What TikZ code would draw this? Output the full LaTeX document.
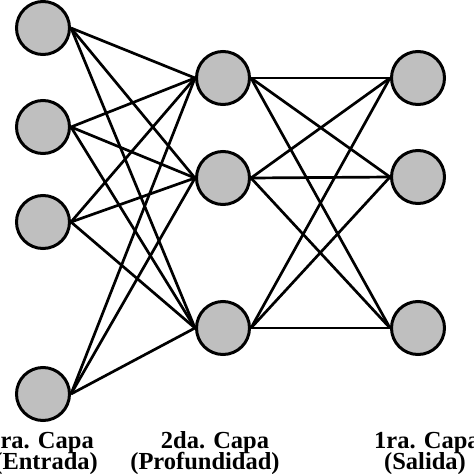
\documentclass[tikz,border=0pt]{standalone}
\usepackage{fontspec}
\setmainfont{Liberation Serif}
\begin{document}
\begin{tikzpicture}[x=1pt,y=-1pt,
  neuron/.style={circle,draw=black,line width=3pt,fill=gray!50!white,minimum size=53pt,inner sep=0pt},
  conn/.style={line width=2.7pt,black},
  lab/.style={font=\fontsize{24.5}{28}\selectfont\bfseries,inner sep=0pt}]
\useasboundingbox (0,0) rectangle (474,474);
\node[neuron] (L1) at (43,28) {};
\node[neuron] (L2) at (43,127) {};
\node[neuron] (L3) at (43,222) {};
\node[neuron] (L4) at (43,394) {};
\node[neuron] (M1) at (223,78) {};
\node[neuron] (M2) at (223,178) {};
\node[neuron] (M3) at (223,328) {};
\node[neuron] (R1) at (418,78) {};
\node[neuron] (R2) at (418,177) {};
\node[neuron] (R3) at (418,328) {};
\foreach \a in {L1,L2,L3,L4}
  \foreach \b in {M1,M2,M3}
    \draw[conn] (\a.east) -- (\b.west);
\foreach \a in {M1,M2,M3}
  \foreach \b in {R1,R2,R3}
    \draw[conn] (\a.east) -- (\b.west);
\node[lab,anchor=base east] (t1) at (94,448) {1ra. Capa};
\node[lab,anchor=base east] (t2) at (98,469) {(Entrada)};
\node[lab,anchor=base] (t3) at (215,448) {2da. Capa};
\node[lab,anchor=base] (t4) at (205,469) {(Profundidad)};
\node[lab,anchor=base west] (t5) at (374,448) {1ra. Capa};
\node[lab,anchor=base] (t6) at (425,469) {(Salida)};
\end{tikzpicture}
\end{document}
